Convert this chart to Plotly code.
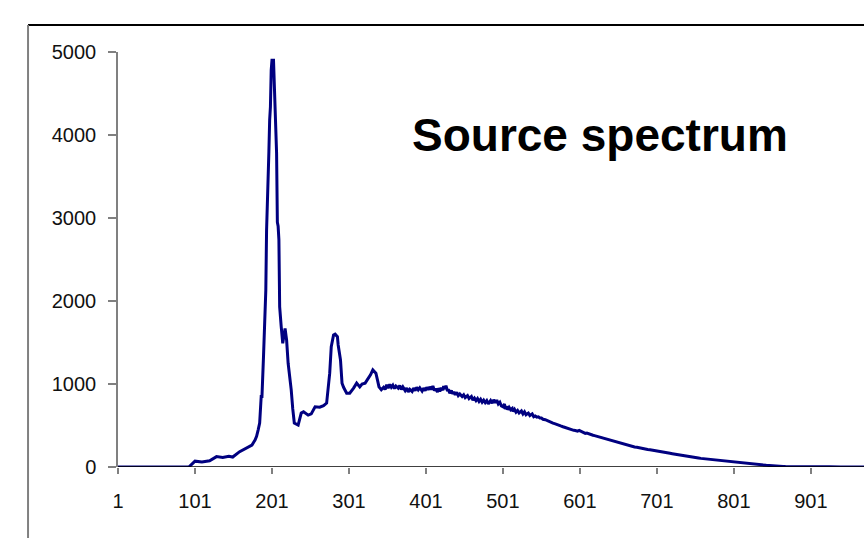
import plotly.graph_objects as go

# Channel numbers and counts
channels = [1, 50, 93, 97, 101, 110, 120, 129, 137, 145, 150, 159, 168, 175, 179, 181,
            183, 185, 187, 188, 190, 192, 193, 194, 195, 196, 197, 198, 199, 200, 201,
            203, 204, 205, 206, 207, 208, 209, 210, 211, 213, 215, 218, 220, 222, 224,
            226, 228, 230, 235, 239, 242, 248, 252, 257, 263, 268, 272, 274, 276, 278,
            281, 283, 286, 287, 290, 292, 294, 298, 302, 307, 311, 315, 318, 322, 326,
            329, 332, 334, 336, 338, 340, 343, 346, 348, 350, 352, 354, 356, 358, 360,
            362, 365, 367, 369, 371, 374, 376, 378, 380, 383, 385, 387, 389, 391, 393,
            396, 398, 400, 402, 404, 406, 408, 410, 412, 414, 416, 417, 419, 421, 423,
            424, 426, 427, 429, 430, 432, 434, 436, 437, 439, 441, 443, 445, 448, 450,
            452, 455, 457, 460, 462, 464, 466, 468, 470, 472, 474, 476, 478, 480, 482,
            485, 487, 489, 491, 493, 495, 497, 499, 501, 503, 504, 506, 507, 509, 511,
            513, 514, 516, 518, 520, 522, 525, 527, 529, 531, 534, 536, 539, 541, 543,
            545, 547, 549, 551, 553, 556, 558, 560, 562, 564, 566, 569, 571, 574, 576,
            579, 581, 584, 586, 588, 590, 593, 595, 598, 600, 603, 605, 608, 610, 613,
            615, 618, 620, 623, 625, 628, 630, 633, 635, 638, 640, 643, 645, 648, 650,
            654, 657, 660, 663, 666, 669, 672, 675, 679, 682, 686, 689, 692, 696, 699,
            703, 706, 710, 714, 718, 721, 725, 729, 732, 736, 739, 743, 746, 749, 752,
            755, 758, 762, 765, 769, 772, 775, 778, 781, 783, 787, 790, 795, 800, 804,
            808, 812, 815, 819, 822, 826, 830, 833, 836, 840, 843, 847, 850, 853, 856,
            858, 861, 865, 868, 873, 878, 884, 890, 900, 910, 925, 940, 955, 970]
counts = [0, 0, 0, 35, 70, 60, 75, 125, 115, 130, 120, 185, 230, 265, 325, 370,
          445, 530, 850, 850, 1330, 1930, 2130, 2855, 3300, 3460, 3800, 4180, 4340, 4780, 4900,
          4900, 4540, 4500, 4020, 3780, 2950, 2900, 2740, 1930, 1690, 1490, 1670, 1530, 1250, 1100,
          930, 700, 530, 505, 650, 665, 625, 640, 725, 720, 740, 770, 965, 1130, 1450,
          1590, 1600, 1570, 1470, 1290, 1010, 960, 890, 890, 950, 1010, 965, 1000, 1010, 1060,
          1110, 1170, 1150, 1130, 1050, 965, 930, 960, 935, 990, 950, 995, 960, 985, 945,
          975, 950, 980, 935, 965, 920, 950, 905, 935, 910, 950, 920, 960, 930, 955,
          915, 950, 920, 960, 930, 965, 935, 975, 920, 945, 900, 950, 910, 955, 925,
          975, 940, 980, 915, 935, 890, 920, 880, 905, 870, 900, 860, 880, 850, 870,
          835, 860, 825, 850, 805, 830, 800, 825, 790, 815, 780, 805, 775, 800, 760,
          800, 770, 810, 775, 805, 760, 780, 735, 725, 760, 700, 730, 690, 720, 690,
          705, 670, 695, 660, 680, 650, 675, 640, 665, 630, 650, 620, 640, 605, 615,
          600, 605, 590, 590, 575, 570, 560, 548, 545, 530, 528, 520, 510, 500, 495,
          485, 478, 470, 462, 455, 450, 442, 440, 432, 440, 425, 418, 405, 408, 395,
          390, 382, 378, 370, 362, 350, 345, 345, 335, 328, 320, 312, 305, 300, 292,
          285, 275, 270, 262, 255, 250, 242, 238, 228, 225, 218, 212, 208, 200, 195,
          190, 182, 178, 172, 165, 160, 155, 148, 142, 138, 132, 128, 122, 118, 112,
          108, 104, 100, 96, 92, 88, 85, 80, 76, 72, 68, 64, 60, 55, 52,
          48, 45, 42, 40, 36, 33, 30, 28, 25, 22, 20, 18, 15, 13, 11,
          10, 9, 7, 6, 5, 4, 3, 3, 2, 2, 2, 1, 1, 1]

x_ticks = [1, 101, 201, 301, 401, 501, 601, 701, 801, 901]
y_ticks = [0, 1000, 2000, 3000, 4000, 5000]
title_text = "Source spectrum"

fig = go.Figure()
fig.add_trace(go.Scatter(
    x=channels, y=counts, mode="lines",
    line=dict(color="#000080", width=3),
    hoverinfo="x+y", showlegend=False,
))

font = dict(family="Liberation Sans, Arial, sans-serif", size=20, color="#111111")

fig.update_layout(
    width=864, height=538,
    margin=dict(l=118, r=0, t=52, b=71),
    paper_bgcolor="white", plot_bgcolor="white",
    xaxis=dict(
        range=[1, 970], tickmode="array", tickvals=x_ticks,
        ticktext=[str(v) for v in x_ticks],
        showgrid=False, zeroline=False,
        showline=False,
        ticks="outside", ticklen=6, tickcolor="#808080", tickwidth=1.5,
        tickfont=font, ticklabelstandoff=10,
    ),
    yaxis=dict(
        range=[0, 5000], tickmode="array", tickvals=y_ticks,
        ticktext=[str(v) for v in y_ticks],
        showgrid=False, zeroline=False,
        showline=True, linecolor="#808080", linewidth=1.5,
        ticks="outside", ticklen=8, tickcolor="#808080", tickwidth=1.5,
        tickfont=font, ticklabelstandoff=8,
    ),
    shapes=[
        # x axis line at zero
        dict(type="line", xref="paper", yref="y", x0=0, x1=1, y0=0, y1=0,
             line=dict(color="black", width=1.5)),
        # outer frame: top and left edges
        dict(type="line", xref="paper", yref="paper", x0=-0.1206, x1=1.01,
             y0=1.065, y1=1.065, line=dict(color="black", width=2)),
        dict(type="line", xref="paper", yref="paper", x0=-0.1206, x1=-0.1206,
             y0=1.065, y1=-0.2, line=dict(color="#808080", width=2)),
    ],
    annotations=[
        dict(text="<b>" + title_text + "</b>", xref="paper", yref="paper",
             x=0.646, y=0.80, xanchor="center", yanchor="middle",
             showarrow=False,
             font=dict(family="Liberation Sans, Arial, sans-serif", size=46, color="black")),
    ],
)

fig.write_html("out.html", config={"displayModeBar": False},
               post_script="document.body.style.margin='0';")
